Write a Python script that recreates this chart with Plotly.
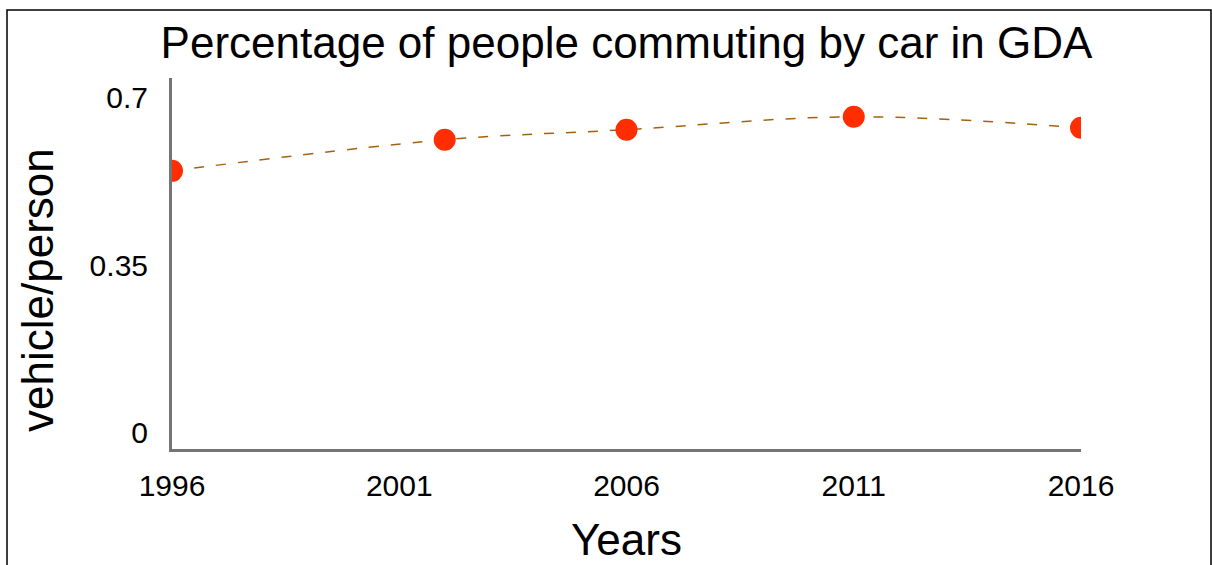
import plotly.graph_objects as go

years = [1996, 2002, 2006, 2011, 2016]
vehicle_per_person = [0.547, 0.612, 0.633, 0.660, 0.637]
x_ticks = [1996, 2001, 2006, 2011, 2016]
y_ticks = [0, 0.35, 0.7]
y_tick_text = ["0", "0.35", "0.7"]

W, H = 1212, 565
L, R, T, B = 172, 1081, 78, 449

def px(x):
    return (x - L) / (R - L)

def py(y):
    return (B - y) / (B - T)

fig = go.Figure()
fig.add_trace(go.Scatter(
    x=years, y=vehicle_per_person, mode="lines+markers",
    line=dict(shape="spline", color="#a4620f", width=1.5, dash="10px,12px"),
    marker=dict(color="#ff2d00", size=22),
    showlegend=False,
))

font = "Liberation Sans, Arial, sans-serif"
fig.update_layout(
    width=W, height=H,
    margin=dict(l=L, r=W - R, t=T, b=H - B, pad=0),
    paper_bgcolor="white", plot_bgcolor="white",
    font=dict(family=font, color="black"),
    title=dict(text="Percentage of people commuting by car in GDA",
               x=0.5, xref="paper", xanchor="center",
               y=1 - 43 / H, yref="container", yanchor="middle",
               font=dict(size=44, family=font, color="black")),
    xaxis=dict(range=[1996, 2016], tickvals=x_ticks, showgrid=False, zeroline=False,
               showline=True, linecolor="#757575", linewidth=3, ticks="",
               tickfont=dict(size=30, family=font, color="black"), ticklabelstandoff=8),
    yaxis=dict(range=[-0.034, 0.741], tickvals=y_ticks, ticktext=y_tick_text,
               showgrid=False, zeroline=False,
               showline=True, linecolor="#757575", linewidth=3, ticks="",
               tickfont=dict(size=30, family=font, color="black"), ticklabelstandoff=15),
    annotations=[
        dict(text="Years", x=0.5, xref="paper", y=py(539), yref="paper",
             xanchor="center", yanchor="middle", showarrow=False,
             font=dict(size=44, family=font, color="black")),
        dict(text="vehicle/person", x=px(37), xref="paper", y=py(290), yref="paper",
             xanchor="center", yanchor="middle", showarrow=False, textangle=-90,
             font=dict(size=44, family=font, color="black")),
    ],
    shapes=[dict(type="rect", xref="paper", yref="paper",
                 x0=px(7), x1=px(1211), y0=py(575), y1=py(10),
                 line=dict(color="black", width=1.5), layer="below")],
)

fig.write_html("out.html")
